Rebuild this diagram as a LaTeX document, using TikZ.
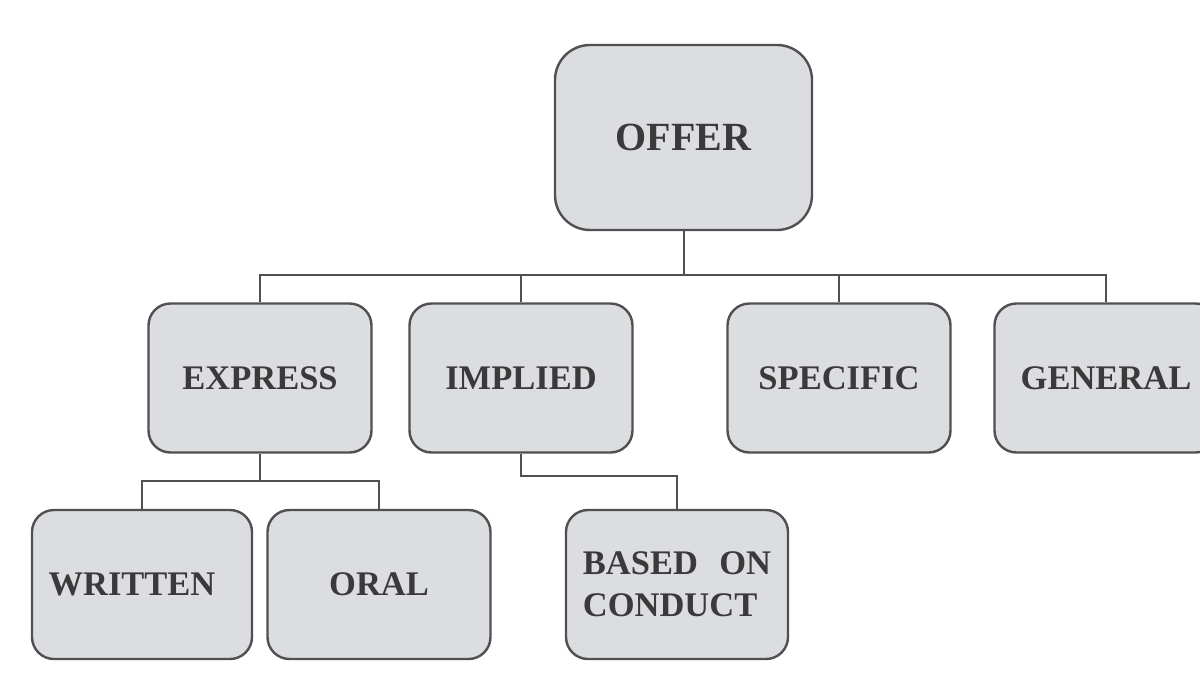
\documentclass[tikz,border=0pt]{standalone}
\usepackage{fontspec}
\setmainfont{Liberation Serif}
\usepackage{xcolor}
\definecolor{boxfill}{HTML}{DCDDE0}
\definecolor{boxline}{HTML}{505050}
\definecolor{boxtext}{HTML}{3A3A3A}

\begin{document}
\begin{tikzpicture}[x=1pt,y=-1pt,
	box/.style={draw=boxline,fill=boxfill,line width=2.4pt,rounded corners=22pt,
		minimum width=223pt,minimum height=149pt,text=boxtext,
		font=\fontsize{34.5}{42}\selectfont\bfseries,inner sep=0pt},
	conn/.style={draw=boxline,line width=2pt}]
	
	\useasboundingbox (0,0) rectangle (1200,675);
	
	% top of the tree
	\node[box,minimum width=257pt,minimum height=185pt,rounded corners=35pt,
		font=\fontsize{40}{48}\selectfont\bfseries] (offer) at (683.5,137.5) {OFFER};
	
	% second row
	\node[box] (express) at (260,378) {EXPRESS};
	\node[box] (implied) at (521,378) {IMPLIED};
	\node[box] (specific) at (839,378) {SPECIFIC};
	\node[box] (general) at (1106,378) {GENERAL};
	
	% third row
	\node[box,minimum width=220pt] (written) at (142,584.5) {WRITTEN\rule{20pt}{0pt}};
	\node[box] (oral) at (379,584.5) {ORAL};
	\node[box,minimum width=222pt,align=left] (conduct) at (677,584.5) {BASED\hspace{0.62em}ON\\CONDUCT};
	
	\draw[conn] (offer.south) -- ++(0,44) coordinate (hub);
	\foreach \n in {express,implied,specific,general}
		\draw[conn] (hub) -| (\n.north);
	
	\draw[conn] (express.south) -- ++(0,27) coordinate (hubx);
	\foreach \n in {written,oral}
		\draw[conn] (hubx) -| (\n.north);
	
	\draw[conn] (implied.south) -- ++(0,22) -| (conduct.north);
	
\end{tikzpicture}
\end{document}
